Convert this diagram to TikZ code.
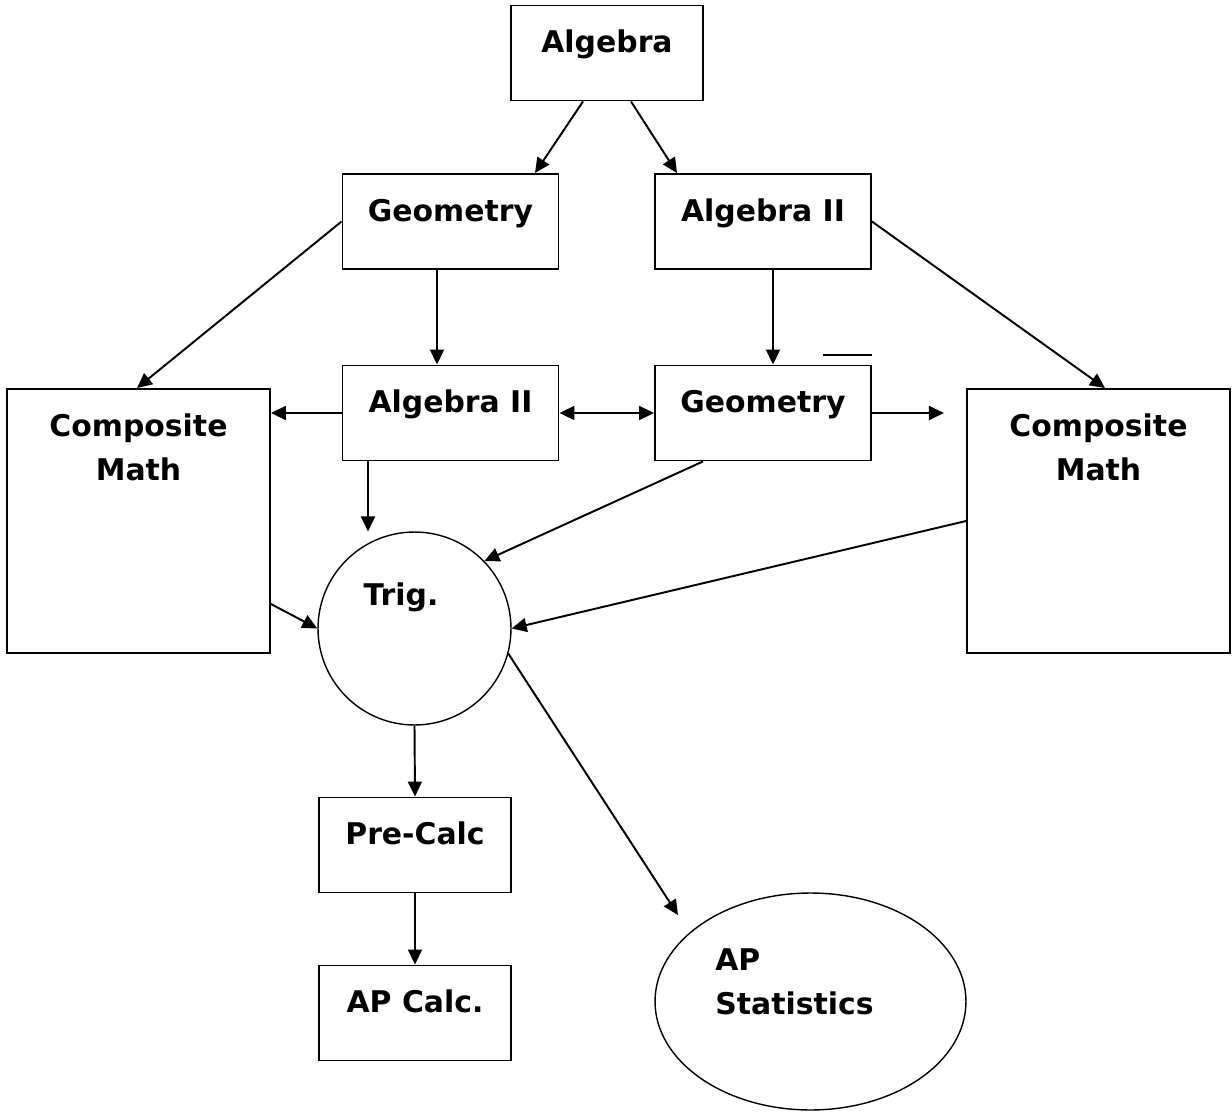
\documentclass[tikz,border=0pt]{standalone}
\usepackage{fontspec}
\setmainfont{DejaVu Sans}
\usetikzlibrary{arrows.meta,calc,shapes.geometric}
\tikzset{
  >={Triangle[length=0.3cm,width=0.28cm]},
  coursetext/.style={font=\bfseries\fontsize{17}{25}\selectfont},
  course/.style={draw, line width=1.1pt, inner sep=0pt, coursetext,
    minimum width=4.32cm, text height=0.94cm, text depth=0.96cm},
  bigcourse/.style={course, align=center, minimum width=5.26cm,
    text height=1.82cm, text depth=3.46cm},
  roundcourse/.style={draw, line width=0.8pt, inner sep=0pt},
  link/.style={->, line width=1.1pt}
}
\begin{document}
\begin{tikzpicture}[x=0.02cm,y=-0.02cm]
        \useasboundingbox (0,0) rectangle (1232,1112);
        %the course boxes
        \node[course, minimum width=3.84cm] (alg) at (607,53) {Algebra};
        \node[course] (geoA) at (450.5,221.5) {Geometry};
        \node[course] (algiiA) at (763,221.5) {Algebra II};
        \node[course] (algiiB) at (450.5,413) {Algebra II};
        \node[course] (geoB) at (763,413) {Geometry};
        \node[bigcourse] (compL) at (138.5,521) {Composite\\Math};
        \node[bigcourse] (compR) at (1098.5,521) {Composite\\Math};
        \node[course, minimum width=3.84cm] (precalc) at (415,845) {Pre-Calc};
        \node[course, minimum width=3.84cm] (apcalc) at (415,1013) {AP Calc.};

        %the round ones, text set off centre
        \node[roundcourse, circle, minimum size=3.86cm] (trig) at (414.5,628.5) {};
        \node[coursetext, anchor=base] (trigtext) at ($(trig.center)+(-13.5,-23.5)$) {Trig.};
        \node[roundcourse, ellipse, minimum width=6.22cm, minimum height=4.34cm] (apstat) at (810.5,1001.5) {};
        \node[coursetext, align=left, anchor=north west, inner sep=0pt] (apstattext)
          at ($(apstat.center)+(-95.5,-53.5)$) {AP\\Statistics};

        %free ends
        \coordinate (geoBout) at ($(geoB.east)+(72,0)$);
        \coordinate (trigin) at ($(algiiB.south)+(-82.5,70)$);
        \coordinate (statin) at ($(apstat.center)+(-132.5,-86.5)$);

        %the arrows
        \draw[link] ($(alg.south)+(-24,0)$) -- ($(geoA.north)+(84.5,0)$);
        \draw[link] ($(alg.south)+(24,0)$) -- ($(algiiA.north)+(-86,0)$);
        \draw[link] (geoA.west) -- ($(compL.north)+(-1.5,0)$);
        \draw[link] ($(geoA.south)+(-13.5,0)$) -- ($(algiiB.north)+(-13.5,0)$);
        \draw[link] ($(algiiA.south)+(10,0)$) -- ($(geoB.north)+(10,0)$);
        \draw[link] (algiiA.east) -- ($(compR.north)+(6.5,0)$);
        \draw[link] (algiiB.west) -- (algiiB.west -| compL.east);
        \draw[link, <->] (algiiB) -- (geoB);
        \draw[link] (geoB.east) -- (geoBout);
        \draw[link] ($(algiiB.south)+(-82.5,0)$) -- (trigin);
        \draw[link] ($(geoB.south)+(-60,0)$) -- (trig.44);
        \draw[link] (compR.west) -- (trig.east);
        \draw[link] ($(compL.east)+(0,83)$) -- (trig.west);
        \draw[link] (trig.south) -- (precalc.north);
        \draw[link] (trig.-15) -- (statin);
        \draw[link] (precalc) -- (apcalc);

        %short stroke over Geometry
        \draw[line width=1.1pt] ($(geoB.north east)+(-49,-10)$) -- ++(49,0);
\end{tikzpicture}
\end{document}
